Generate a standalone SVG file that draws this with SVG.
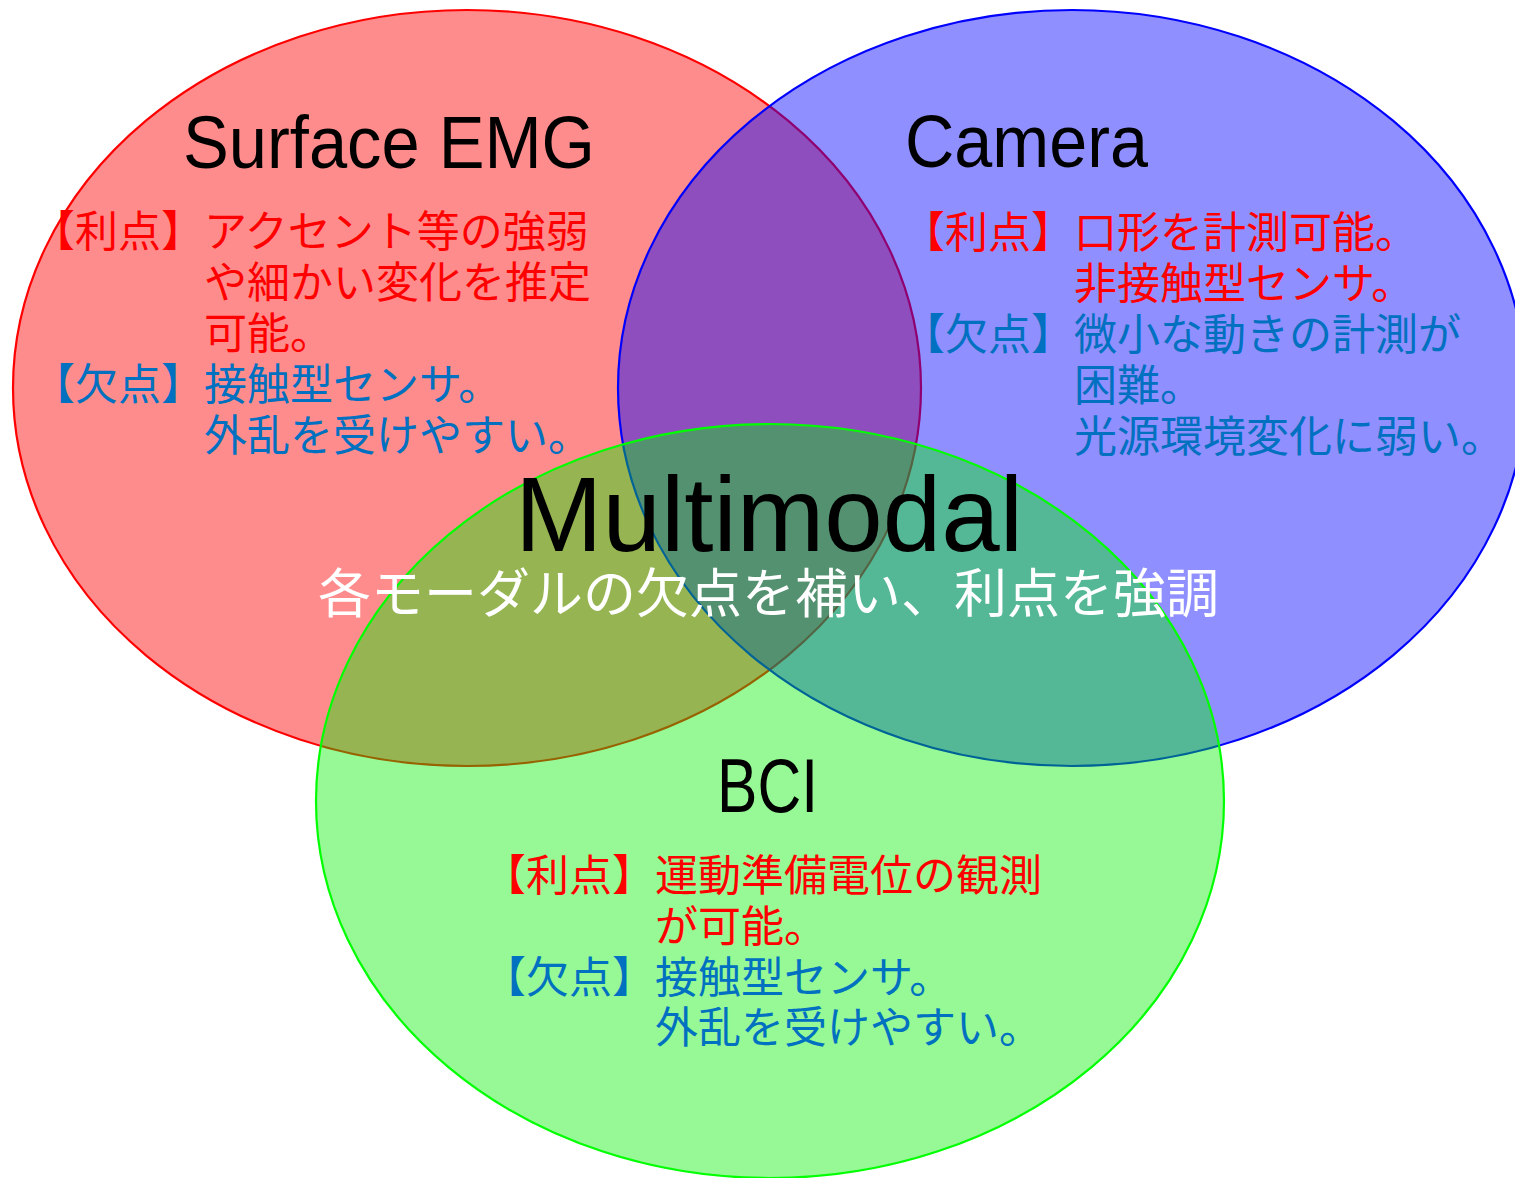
<svg xmlns="http://www.w3.org/2000/svg" width="1515" height="1178" viewBox="0 0 1515 1178">
<style>
.ell{stroke-width:2.2}
.title{font-family:"Liberation Sans","DejaVu Sans",sans-serif;fill:#000}
.jp{font-family:"Noto Sans CJK JP","Noto Sans CJK SC",sans-serif;font-size:43px}
.adv{fill:#ff0000}
.dis{fill:#0070c0}
.sub{font-family:"Noto Sans CJK JP","Noto Sans CJK SC",sans-serif;font-size:53px;fill:#ffffff}
</style>
<rect width="1515" height="1178" fill="#ffffff"/>
<g id="surface-emg">
  <ellipse class="ell" cx="467" cy="388" rx="454" ry="378" fill="#ff0000" fill-opacity="0.45" stroke="#ff0000"/>
  <text class="title" x="183" y="168" font-size="74" textLength="412" lengthAdjust="spacingAndGlyphs">Surface EMG</text>
  <text class="jp adv" x="32" y="247">【利点】アクセント等の強弱</text>
  <text class="jp adv" x="204" y="298">や細かい変化を推定</text>
  <text class="jp adv" x="204" y="349">可能。</text>
  <text class="jp dis" x="32" y="400">【欠点】接触型センサ。</text>
  <text class="jp dis" x="204" y="451">外乱を受けやすい。</text>
</g>
<g id="camera">
  <ellipse class="ell" cx="1072" cy="388" rx="454" ry="378" fill="#0000ff" fill-opacity="0.44" stroke="#0000ff"/>
  <text class="title" x="905" y="167" font-size="74" textLength="243" lengthAdjust="spacingAndGlyphs">Camera</text>
  <text class="jp adv" x="902" y="248">【利点】口形を計測可能。</text>
  <text class="jp adv" x="1074" y="299">非接触型センサ。</text>
  <text class="jp dis" x="902" y="350">【欠点】微小な動きの計測が</text>
  <text class="jp dis" x="1074" y="401">困難。</text>
  <text class="jp dis" x="1074" y="452">光源環境変化に弱い。</text>
</g>
<g id="bci">
  <ellipse class="ell" cx="770" cy="801" rx="454" ry="377" fill="#00f000" fill-opacity="0.41" stroke="#00ff00"/>
  <text class="title" x="717" y="812" font-size="76" textLength="101" lengthAdjust="spacingAndGlyphs">BCI</text>
  <text class="jp adv" x="483" y="891">【利点】運動準備電位の観測</text>
  <text class="jp adv" x="655" y="942">が可能。</text>
  <text class="jp dis" x="483" y="993">【欠点】接触型センサ。</text>
  <text class="jp dis" x="655" y="1043">外乱を受けやすい。</text>
</g>
<g id="multimodal">
  <text class="title" x="515" y="551" font-size="106" textLength="508" lengthAdjust="spacingAndGlyphs">Multimodal</text>
  <text class="sub" x="318" y="613">各モーダルの欠点を補い、利点を強調</text>
</g>
</svg>
